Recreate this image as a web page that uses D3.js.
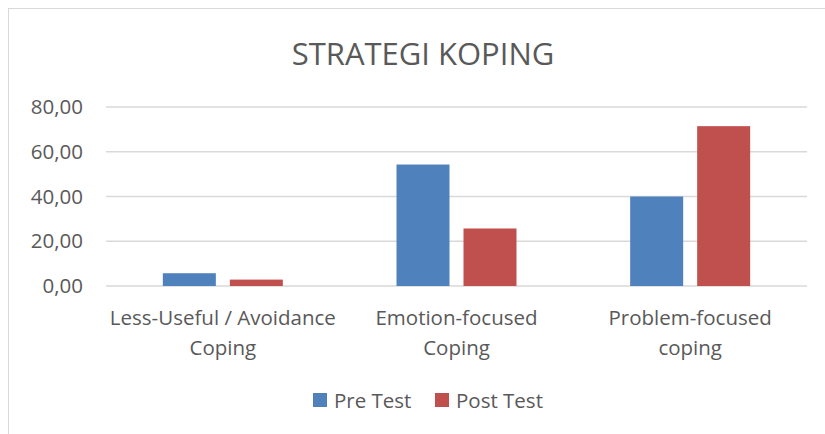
<!DOCTYPE html>
<html>
<head>
<meta charset="utf-8">
<script src="https://cdn.jsdelivr.net/npm/d3@7"></script>
<style>
  body { margin: 0; background: #fff; }
  text { font-family: "Open Sans", sans-serif; fill: #595959; }
</style>
</head>
<body>
<script>
var categories = ["Less-Useful / Avoidance Coping", "Emotion-focused Coping", "Problem-focused coping"];
var categoryLines = [["Less-Useful / Avoidance", "Coping"], ["Emotion-focused", "Coping"], ["Problem-focused", "coping"]];
var seriesNames = ["Pre Test", "Post Test"];
var preTest = [5.71, 54.29, 40.00];
var postTest = [2.86, 25.71, 71.43];
var yTicks = [0, 20, 40, 60, 80];
var colors = ["#4F81BD", "#C0504D"];

var width = 825, height = 434;
var svg = d3.select("body").append("svg")
    .attr("width", width)
    .attr("height", height);

// chart frame
svg.append("rect")
    .attr("x", 8.5).attr("y", 8.5)
    .attr("width", 840).attr("height", 440)
    .attr("fill", "none")
    .attr("stroke", "#D9D9D9")
    .attr("stroke-width", 1);

svg.append("text")
    .attr("x", 423).attr("y", 65)
    .attr("text-anchor", "middle")
    .style("font-size", "31px")
    .text("STRATEGI KOPING");

var x = d3.scaleBand().domain(categories).range([106, 807]);
var y = d3.scaleLinear().domain([0, 80]).range([286, 107]);

var grid = svg.append("g");
grid.selectAll("line")
    .data(yTicks)
    .enter()
  .append("line")
    .attr("x1", 106).attr("x2", 807)
    .attr("y1", function(d) { return y(d); })
    .attr("y2", function(d) { return y(d); })
    .attr("stroke", "#D9D9D9")
    .attr("stroke-width", 1.3);

grid.selectAll("text")
    .data(yTicks)
    .enter()
  .append("text")
    .attr("x", 83)
    .attr("y", function(d) { return y(d) + 7; })
    .attr("text-anchor", "end")
    .style("font-size", "20.5px")
    .text(function(d) { return d3.format(".2f")(d).replace(".", ","); });

var barW = 53, gap = 14;
var series = [preTest, postTest];
series.forEach(function(vals, s) {
  svg.append("g").selectAll("rect")
      .data(vals)
      .enter()
    .append("rect")
      .attr("x", function(d, i) {
        var c = x(categories[i]) + x.bandwidth() / 2;
        return s === 0 ? c - gap / 2 - barW : c + gap / 2;
      })
      .attr("y", function(d) { return y(d); })
      .attr("width", barW)
      .attr("height", function(d) { return y(0) - y(d); })
      .attr("fill", colors[s]);
});

var labels = svg.append("g").selectAll("text")
    .data(categoryLines)
    .enter()
  .append("text")
    .attr("text-anchor", "middle")
    .style("font-size", "20.5px")
    .attr("transform", function(d, i) {
      return "translate(" + (x(categories[i]) + x.bandwidth() / 2) + ",0)";
    });
labels.selectAll("tspan")
    .data(function(d) { return d; })
    .enter()
  .append("tspan")
    .attr("x", 0)
    .attr("y", function(d, j) { return 325 + j * 30; })
    .text(function(d) { return d; });

var legendX = [313, 435];
var legend = svg.append("g").selectAll("g")
    .data(seriesNames)
    .enter()
  .append("g")
    .attr("transform", function(d, i) { return "translate(" + legendX[i] + ",393)"; });
legend.append("rect")
    .attr("width", 14).attr("height", 14)
    .attr("fill", function(d, i) { return colors[i]; });
legend.append("text")
    .attr("x", 21).attr("y", 15)
    .style("font-size", "20.5px")
    .text(function(d) { return d; });
</script>
</body>
</html>
